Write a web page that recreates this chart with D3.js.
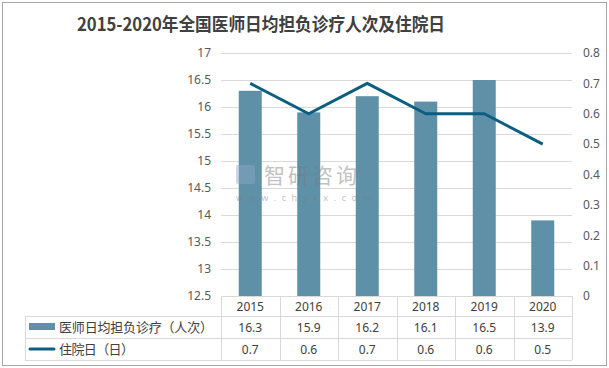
<!DOCTYPE html>
<html><head><meta charset="utf-8">
<script src="https://cdn.jsdelivr.net/npm/d3@7"></script>
<style>body{margin:0;background:#fff;} svg{display:block;}</style>
</head><body>
<script>
const years = ["2015","2016","2017","2018","2019","2020"];
const visits = [16.3, 15.9, 16.2, 16.1, 16.5, 13.9];
const days = [0.7, 0.6, 0.7, 0.6, 0.6, 0.5];
const leftTicks = [12.5,13,13.5,14,14.5,15,15.5,16,16.5,17];
const rightTicks = [0,0.1,0.2,0.3,0.4,0.5,0.6,0.7,0.8];
const seriesNames = ["医师日均担负诊疗（人次）","住院日（日）"];
const title = "2015-2020年全国医师日均担负诊疗人次及住院日";

const W=609,H=368;
const font = "'Noto Sans','Noto Sans CJK SC',sans-serif";
const cjk = "'Noto Sans CJK SC','Noto Sans',sans-serif";
const svg = d3.select("body").append("svg").attr("width",W).attr("height",H);
svg.append("rect").attr("x",2.5).attr("y",2.5).attr("width",W-5).attr("height",H-5)
  .attr("fill","#fff").attr("stroke","#a6a6a6").attr("stroke-width",1);

const L=221, R=572, T=53, B=296;
const x = d3.scaleBand().domain(years).range([L,R]);
const yL = d3.scaleLinear().domain([12.5,17]).range([B,T]);
const yR = d3.scaleLinear().domain([0,0.8]).range([B,T]);

// title
svg.append("text").attr("x",77).attr("y",31)
  .attr("font-family",cjk).attr("font-weight","bold").attr("font-size",18)
  .attr("textLength",368).attr("lengthAdjust","spacingAndGlyphs")
  .attr("fill","#404040").text(title);

// gridlines
svg.append("g").selectAll("line").data(leftTicks.slice(1)).join("line")
  .attr("x1",L).attr("x2",R).attr("y1",d=>Math.round(yL(d))+0.5).attr("y2",d=>Math.round(yL(d))+0.5)
  .attr("stroke","#d9d9d9");

// axes
const axL = svg.append("g").attr("transform",`translate(${L-10},0)`)
  .call(d3.axisLeft(yL).tickValues(leftTicks).tickSize(0).tickPadding(0).tickFormat(d3.format("")));
const axR = svg.append("g").attr("transform",`translate(${R+11},0)`)
  .call(d3.axisRight(yR).tickValues(rightTicks).tickSize(0).tickPadding(0).tickFormat(d3.format("")));
[axL,axR].forEach(a=>{a.select(".domain").remove();
  a.selectAll("text").attr("font-family",font).attr("font-size",12).attr("fill","#595959");});

// bars
const bw = 23;
svg.append("g").selectAll("rect").data(visits).join("rect")
  .attr("x",(d,i)=>x(years[i])+x.bandwidth()/2-bw/2).attr("width",bw)
  .attr("y",d=>yL(d)).attr("height",d=>B-yL(d)).attr("fill","#5e91a8");

// line
const line = d3.line().x((d,i)=>x(years[i])+x.bandwidth()/2).y(d=>yR(d));
svg.append("path").datum(days).attr("d",line).attr("fill","none")
  .attr("stroke","#0b5e80").attr("stroke-width",3).attr("stroke-linejoin","round");

// watermark (over the bars)
const wm = svg.append("g").attr("opacity",0.45);
wm.append("rect").attr("x",236).attr("y",165).attr("width",19).attr("height",19).attr("fill","#8fa8c8").attr("rx",2);
wm.append("text").attr("x",264).attr("y",183).attr("font-family",cjk).attr("font-size",21)
  .attr("fill","#7a7a7a").attr("letter-spacing",3).text("智研咨询");
wm.append("text").attr("x",236).attr("y",201).attr("font-family",font).attr("font-size",9)
  .attr("fill","#7a7a7a").attr("letter-spacing",5.6).text("www.chyxx.com");

// data table
const rowY = [296,316,338,360];
const LL = 25;
const tg = svg.append("g").attr("stroke","#d9d9d9").attr("stroke-width",1);
tg.append("line").attr("x1",L).attr("x2",R).attr("y1",rowY[0]+0.5).attr("y2",rowY[0]+0.5);
[1,2,3].forEach(k=>tg.append("line").attr("x1",LL).attr("x2",R).attr("y1",rowY[k]+0.5).attr("y2",rowY[k]+0.5));
tg.append("line").attr("x1",LL+0.5).attr("x2",LL+0.5).attr("y1",rowY[1]).attr("y2",rowY[3]);
const bounds = years.map(y=>x(y)).concat([R]);
tg.selectAll(".v").data(bounds).join("line").attr("class","v")
  .attr("x1",d=>Math.round(d)+0.5).attr("x2",d=>Math.round(d)+0.5).attr("y1",rowY[0]).attr("y2",rowY[3]);

const txt = (xx,yy,t,anchor,ff)=>svg.append("text").attr("x",xx).attr("y",yy).attr("text-anchor",anchor||"middle")
  .attr("font-family",ff||font).attr("font-size",12).attr("fill","#404040").text(t);
years.forEach((yv,i)=>{
  const cx = x(yv)+x.bandwidth()/2;
  txt(cx,311,yv);
  txt(cx,332,visits[i]);
  txt(cx,354,days[i].toFixed(1));
});
// legend in table
svg.append("rect").attr("x",29).attr("y",323).attr("width",26).attr("height",7).attr("fill","#5e91a8");
svg.append("line").attr("x1",30).attr("x2",54).attr("y1",349).attr("y2",349).attr("stroke","#0b5e80").attr("stroke-width",3).attr("stroke-linecap","round");
txt(59,332,seriesNames[0],"start",cjk).attr("font-size",13).attr("textLength",154).attr("lengthAdjust","spacing");
txt(59,354,seriesNames[1],"start",cjk).attr("font-size",13).attr("textLength",75).attr("lengthAdjust","spacing");
</script>
</body></html>
